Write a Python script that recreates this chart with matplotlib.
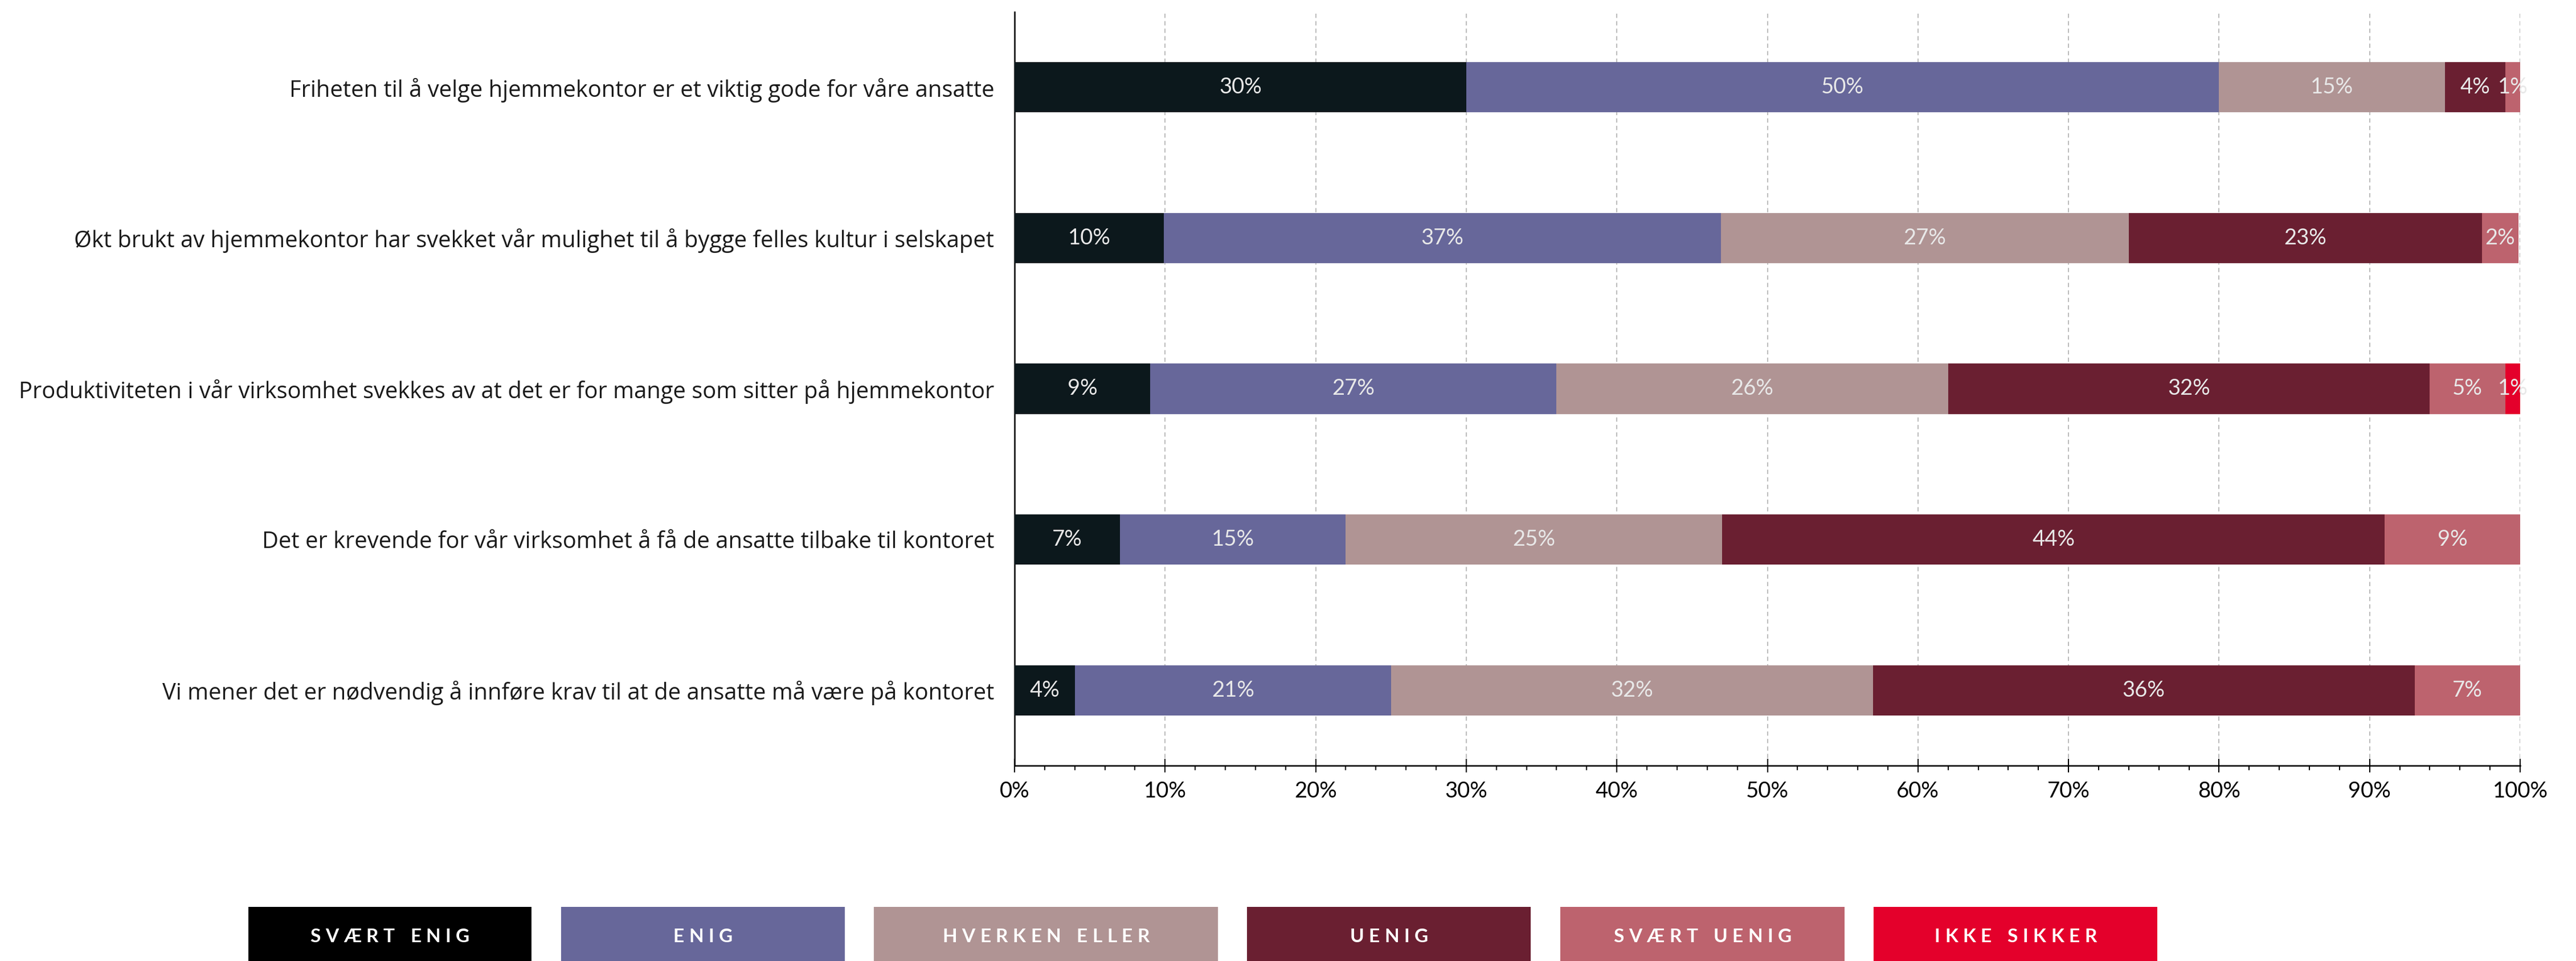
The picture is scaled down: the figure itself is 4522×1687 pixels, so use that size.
import matplotlib
matplotlib.use("Agg")
import matplotlib.pyplot as plt
from matplotlib.font_manager import FontProperties
from matplotlib.patches import Rectangle
from matplotlib.ticker import MultipleLocator, FuncFormatter
import numpy as np

# ---- data -------------------------------------------------------------
statements = [
    "Friheten til å velge hjemmekontor er et viktig gode for våre ansatte",
    "Økt brukt av hjemmekontor har svekket vår mulighet til å bygge felles kultur i selskapet",
    "Produktiviteten i vår virksomhet svekkes av at det er for mange som sitter på hjemmekontor",
    "Det er krevende for vår virksomhet å få de ansatte tilbake til kontoret",
    "Vi mener det er nødvendig å innføre krav til at de ansatte må være på kontoret",
]
answers = ["SVÆRT ENIG", "ENIG", "HVERKEN ELLER", "UENIG", "SVÆRT UENIG", "IKKE SIKKER"]

svaert_enig  = [30, 9.9, 9, 7, 4]
enig         = [50, 37.0, 27, 15, 21]
hverken      = [15, 27.1, 26, 25, 32]
uenig        = [4, 23.45, 32, 44, 36]
svaert_uenig = [1, 2.45, 5, 9, 7]
ikke_sikker  = [0, 0, 1, 0, 0]

series = [svaert_enig, enig, hverken, uenig, svaert_uenig, ikke_sikker]
bar_colors = ["#0c181c", "#67679a", "#b09494", "#6a1f31", "#bd636e", "#e4002b"]
legend_colors = ["#000000", "#67679a", "#b09494", "#6a1f31", "#bd636e", "#e4002b"]
x_ticks = [0, 10, 20, 30, 40, 50, 60, 70, 80, 90, 100]

# ---- figure -----------------------------------------------------------
W, H, DPI = 4522, 1687, 300
FONT = "Lato"
LABEL_FONT = "Open Sans"
plt.rcParams["font.family"] = [FONT, "DejaVu Sans"]

fig = plt.figure(figsize=(W / DPI, H / DPI), dpi=DPI)
ax = fig.add_axes([1781 / W, 1 - 1344 / H, (4424 - 1781) / W, (1344 - 21) / H])
renderer = fig.canvas.get_renderer()

# size the statement labels so the longest one spans the space left of the axis
label_width_px = 1711
probe = FontProperties(family=[LABEL_FONT, "DejaVu Sans"], size=10)
widest = max(renderer.get_text_width_height_descent(s, probe, ismath=False)[0]
             for s in statements)
label_size = 10 * label_width_px / widest

y = np.arange(len(statements))
left = np.zeros(len(statements))
for vals, col in zip(series, bar_colors):
    vals = np.asarray(vals, dtype=float)
    ax.barh(y, vals, left=left, height=0.333, color=col, linewidth=0, zorder=3)
    for yi, l, v in zip(y, left, vals):
        if v > 0:
            ax.text(l + v / 2, yi, f"{v:.0f}%", ha="center", va="center",
                    color="#e8e8e8", fontsize=9.2, zorder=4)
    left += vals

ax.set_xlim(0, 100)
ax.set_ylim(len(statements) - 0.5, -0.5)

ax.set_yticks(y)
ax.set_yticklabels(statements, fontsize=label_size, color="#1a1a1a",
                   family=[LABEL_FONT, "DejaVu Sans"])
ax.tick_params(axis="y", length=0, pad=8.6)

ax.set_xticks(x_ticks)
ax.xaxis.set_major_formatter(FuncFormatter(lambda v, p: f"{v:.0f}%"))
ax.xaxis.set_minor_locator(MultipleLocator(2))
ax.tick_params(axis="x", which="major", direction="inout", length=5.8, width=0.5,
               labelsize=9.2, pad=3.5, colors="black")
ax.tick_params(axis="x", which="minor", direction="out", length=1.9, width=0.5)

ax.grid(axis="x", which="major", linestyle=(0, (4, 3)), color="#b8b8b8",
        linewidth=0.45, zorder=0)
ax.set_axisbelow(True)

for s in ("top", "right"):
    ax.spines[s].set_visible(False)
ax.spines["left"].set_linewidth(0.6)
ax.spines["bottom"].set_linewidth(0.6)

# ---- legend boxes with tracked labels ---------------------------------
box_x = [436, 985, 1534, 2189, 2739, 3289]
box_w = [497, 498, 604, 498, 499, 498]
box_top, box_bottom = 1592, 1687
text_y = 1645
track_px = 8.5

fp = FontProperties(family=FONT, size=8, weight="bold")


def tracked_label(cx, cy, s):
    widths = []
    for ch in s:
        w = renderer.get_text_width_height_descent(ch, fp, ismath=False)[0]
        if ch == " " or w == 0:
            w = renderer.get_text_width_height_descent("n", fp, ismath=False)[0] * 0.55
        widths.append(w)
    total = sum(widths) + track_px * (len(s) - 1)
    x = cx - total / 2
    for ch, w in zip(s, widths):
        if ch != " ":
            fig.text(x / W, 1 - cy / H, ch, ha="left", va="center",
                     fontproperties=fp, color="white")
        x += w + track_px


for name, col, bx, bw in zip(answers, legend_colors, box_x, box_w):
    fig.add_artist(Rectangle((bx / W, 1 - box_bottom / H), bw / W,
                             (box_bottom - box_top) / H,
                             transform=fig.transFigure, color=col, linewidth=0))
    tracked_label(bx + bw / 2, text_y, name)

fig.savefig("out.png", dpi=DPI)
